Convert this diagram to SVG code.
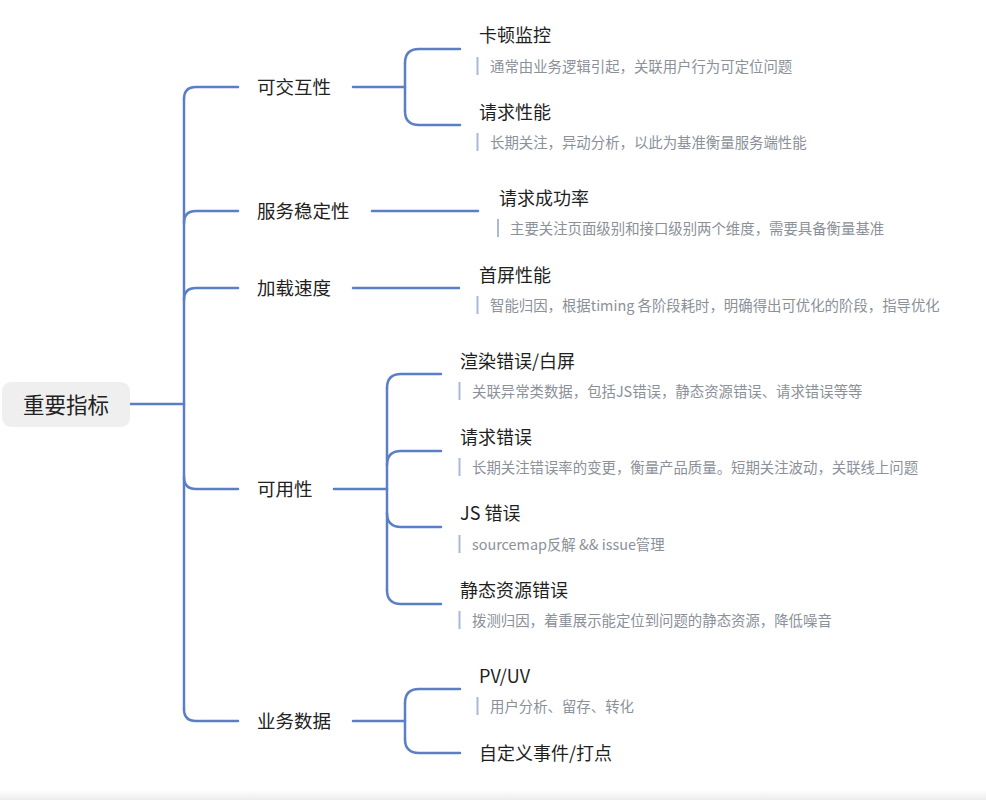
<svg xmlns="http://www.w3.org/2000/svg" width="986" height="800" viewBox="0 0 986 800">
<defs>
<linearGradient id="bot" x1="0" y1="0" x2="0" y2="1"><stop offset="0" stop-color="#ffffff"/><stop offset="1" stop-color="#ececec"/></linearGradient>
<style>
text{font-family:"Noto Sans CJK SC","Noto Sans",sans-serif;dominant-baseline:central}
.l1{font-size:18.5px;fill:#222}
.t{font-size:18px;fill:#1f1f1f}
.d{font-size:14.4px;fill:#8b9099}
.bar{fill:#a9b9d8}
.c path{fill:none;stroke:#5a7fc6;stroke-width:2.5;stroke-linecap:round}
</style>
</defs>
<rect width="986" height="800" fill="#ffffff"/>
<rect x="0" y="790" width="986" height="10" fill="url(#bot)"/>
<g class="c" id="connectors">
<path d="M130,404 L184,404"/>
<path d="M184,99 L184,709"/>
<path d="M184,99 Q184,87 196,87 L238,87"/>
<path d="M184,223 Q184,211 196,211 L238,211"/>
<path d="M184,300 Q184,288 196,288 L238,288"/>
<path d="M184,477 Q184,489 196,489 L238,489"/>
<path d="M184,709 Q184,721 196,721 L238,721"/>
<path d="M353,87 L405,87"/>
<path d="M405,63 L405,111"/>
<path d="M405,63 Q405,49 419,49 L460,49"/>
<path d="M405,111 Q405,125 419,125 L460,125"/>
<path d="M372,211 L478,211"/>
<path d="M353,288 L459,288"/>
<path d="M334,489 L387,489"/>
<path d="M387,388 L387,590"/>
<path d="M387,388 Q387,374 401,374 L441,374"/>
<path d="M387,465 Q387,451 401,451 L441,451"/>
<path d="M387,513 Q387,527 401,527 L441,527"/>
<path d="M387,590 Q387,604 401,604 L441,604"/>
<path d="M353,721 L405,721"/>
<path d="M405,703 L405,739"/>
<path d="M405,703 Q405,689 419,689 L460,689"/>
<path d="M405,739 Q405,753 419,753 L460,753"/>
</g>
<g id="root">
<rect x="2" y="382" width="128" height="45" rx="9" fill="#efefef"/>
<text x="66" y="403" text-anchor="middle" style="font-size:21.5px;fill:#222">重要指标</text>
</g>
<g id="n-interact"><text class="l1" x="257" y="86">可交互性</text></g>
<g id="n-stability"><text class="l1" x="257" y="210">服务稳定性</text></g>
<g id="n-load"><text class="l1" x="257" y="287">加载速度</text></g>
<g id="n-avail"><text class="l1" x="257" y="488">可用性</text></g>
<g id="n-biz"><text class="l1" x="257" y="720">业务数据</text></g>
<g id="n-jank">
<text class="t" x="479" y="33.5">卡顿监控</text>
<rect class="bar" x="476.5" y="57" width="2" height="18"/>
<text class="d" x="490" y="65">通常由业务逻辑引起，关联用户行为可定位问题</text>
</g>
<g id="n-reqperf">
<text class="t" x="479" y="110.5">请求性能</text>
<rect class="bar" x="476.5" y="133" width="2" height="18"/>
<text class="d" x="490" y="141">长期关注，异动分析，以此为基准衡量服务端性能</text>
</g>
<g id="n-success">
<text class="t" x="499" y="196.5">请求成功率</text>
<rect class="bar" x="497" y="219" width="2" height="18"/>
<text class="d" x="510" y="227">主要关注页面级别和接口级别两个维度，需要具备衡量基准</text>
</g>
<g id="n-fcp">
<text class="t" x="479" y="273.5">首屏性能</text>
<rect class="bar" x="476.5" y="296" width="2" height="18"/>
<text class="d" x="490" y="304">智能归因，根据timing 各阶段耗时，明确得出可优化的阶段，指导优化</text>
</g>
<g id="n-render">
<text class="t" x="460" y="359.5">渲染错误/白屏</text>
<rect class="bar" x="458.5" y="382" width="2" height="18"/>
<text class="d" x="472" y="390">关联异常类数据，包括JS错误，静态资源错误、请求错误等等</text>
</g>
<g id="n-reqerr">
<text class="t" x="460" y="435.5">请求错误</text>
<rect class="bar" x="458.5" y="458" width="2" height="18"/>
<text class="d" x="472" y="466">长期关注错误率的变更，衡量产品质量。短期关注波动，关联线上问题</text>
</g>
<g id="n-jserr">
<text class="t" x="460" y="511.5">JS 错误</text>
<rect class="bar" x="458.5" y="535" width="2" height="18"/>
<text class="d" x="472" y="543">sourcemap反解 &amp;&amp; issue管理</text>
</g>
<g id="n-static">
<text class="t" x="460" y="588.5">静态资源错误</text>
<rect class="bar" x="458.5" y="611" width="2" height="18"/>
<text class="d" x="472" y="619">拨测归因，着重展示能定位到问题的静态资源，降低噪音</text>
</g>
<g id="n-pvuv">
<text class="t" x="479" y="674.5">PV/UV</text>
<rect class="bar" x="476.5" y="697" width="2" height="18"/>
<text class="d" x="490" y="705">用户分析、留存、转化</text>
</g>
<g id="n-custom">
<text class="t" x="479" y="751.5">自定义事件/打点</text>
</g>
</svg>
